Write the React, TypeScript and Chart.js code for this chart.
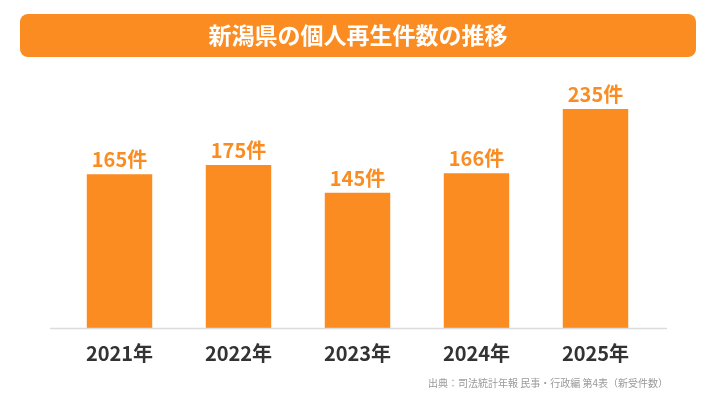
import { useEffect, useRef } from 'react';
import { Chart, registerables } from 'chart.js';

Chart.register(...registerables);

const years = ['2021年', '2022年', '2023年', '2024年', '2025年'];
const cases = [165, 175, 145, 166, 235];
const title = '新潟県の個人再生件数の推移';
const source = '出典：司法統計年報 民事・行政編 第4表（新受件数）';

const ORANGE = '#FA8C22';
const FONT = '"Noto Sans CJK JP", "Noto Sans", sans-serif';

// banner, baseline, value labels and source note
const decorations = {
  id: 'decorations',
  afterDraw(chart: Chart) {
    const { ctx, chartArea } = chart;
    ctx.save();

    // title banner
    ctx.fillStyle = ORANGE;
    ctx.beginPath();
    ctx.roundRect(20, 14, 676, 43, 8);
    ctx.fill();
    ctx.fillStyle = '#fff';
    ctx.font = `bold 23px ${FONT}`;
    ctx.textAlign = 'center';
    ctx.textBaseline = 'middle';
    ctx.fillText(title, 358, 35);

    // baseline
    ctx.strokeStyle = '#dcdcdc';
    ctx.lineWidth = 1.5;
    ctx.beginPath();
    ctx.moveTo(chartArea.left - 10, chartArea.bottom + 0.5);
    ctx.lineTo(chartArea.right + 12, chartArea.bottom + 0.5);
    ctx.stroke();

    // value labels
    const meta = chart.getDatasetMeta(0);
    ctx.fillStyle = ORANGE;
    ctx.font = `bold 20px ${FONT}`;
    ctx.textBaseline = 'alphabetic';
    meta.data.forEach((bar, i) => {
      ctx.fillText(`${cases[i]}件`, bar.x, bar.y - 7);
    });

    // source
    ctx.fillStyle = '#9a9a9a';
    ctx.font = `10px ${FONT}`;
    ctx.textAlign = 'right';
    ctx.textBaseline = 'middle';
    ctx.fillText(source, 668, 383);

    ctx.restore();
  },
};

export default function App() {
  const canvasRef = useRef<HTMLCanvasElement>(null);

  useEffect(() => {
    document.body.style.margin = '0';
    if (!canvasRef.current) return;

    const chart = new Chart(canvasRef.current, {
      type: 'bar',
      data: {
        labels: years,
        datasets: [
          {
            data: cases,
            backgroundColor: ORANGE,
            borderWidth: 0,
            barPercentage: 0.55,
            categoryPercentage: 1,
          },
        ],
      },
      options: {
        animation: false,
        responsive: false,
        layout: { padding: { left: 60, right: 61, top: 95, bottom: 25 } },
        scales: {
          x: {
            grid: { display: false, drawTicks: false },
            border: { display: false },
            ticks: {
              padding: 13,
              color: '#333',
              font: { family: FONT, size: 20, weight: 'bold' },
            },
          },
          y: {
            display: false,
            min: 0,
            max: 250,
          },
        },
        plugins: {
          legend: { display: false },
          tooltip: { enabled: false },
        },
      },
      plugins: [decorations],
    });

    return () => chart.destroy();
  }, []);

  return (
    <div style={{ width: 716, height: 403, background: '#fff' }}>
      <canvas ref={canvasRef} width={716} height={403} />
    </div>
  );
}
